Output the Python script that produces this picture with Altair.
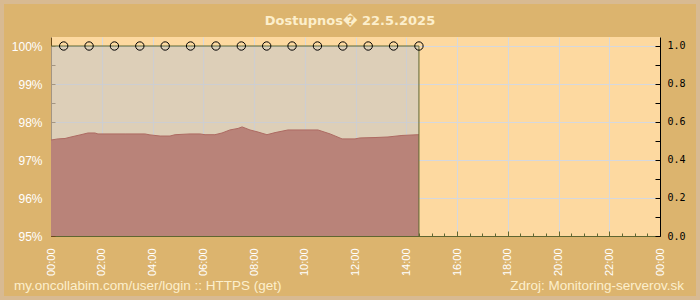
import altair as alt
import pandas as pd

TITLE = "Dostupnos\ufffd 22.5.2025"
FOOT_LEFT = "my.oncollabim.com/user/login :: HTTPS (get)"
FOOT_RIGHT = "Zdroj: Monitoring-serverov.sk"

# availability (left axis, %), hourly samples
avail_hours = [0.5, 1.5, 2.5, 3.5, 4.5, 5.5, 6.5, 7.5, 8.5, 9.5, 10.5, 11.5, 12.5, 13.5, 14.5]
avail_values = [100, 100, 100, 100, 100, 100, 100, 100, 100, 100, 100, 100, 100, 100, 100]

# response series (right axis)
resp_hours = [0.00, 0.28, 0.55, 0.79, 1.18, 1.46, 1.73, 1.85, 2.92, 3.70, 3.90, 4.30, 4.69, 4.89,
              5.48, 5.87, 6.07, 6.46, 6.74, 7.05, 7.37, 7.53, 7.84, 8.16, 8.51, 8.83, 9.34, 10.52,
              11.00, 11.47, 11.98, 12.18, 12.77, 13.28, 13.83, 14.46, 14.50]
resp_values = [0.505, 0.511, 0.513, 0.521, 0.533, 0.542, 0.542, 0.537, 0.537, 0.537, 0.532, 0.526, 0.526, 0.533,
               0.537, 0.537, 0.533, 0.533, 0.542, 0.558, 0.566, 0.574, 0.558, 0.547, 0.533, 0.544, 0.558, 0.558,
               0.537, 0.511, 0.511, 0.516, 0.518, 0.521, 0.529, 0.533, 0.533]

x_major = [0, 2, 4, 6, 8, 10, 12, 14, 16, 18, 20, 22, 24]
x_minor = [i * 0.5 for i in range(49)]
yl_major = [95, 96, 97, 98, 99, 100]
yl_minor = [95 + i * 0.5 for i in range(11)]
yr_major = [0.0, 0.2, 0.4, 0.6, 0.8, 1.0]
yr_minor = [round(i * 0.1, 1) for i in range(11)]

W, H = 609, 199
X_DOM = [0, 24]
YL_DOM = [95, 100.237]
YR_DOM = [0, 1.047]

GRID = "#d5d8de"
OLIVE = "#5f6631"
BROWN = "#6b4a1a"
CREAM = "#fcefcc"

xs = alt.Scale(domain=X_DOM, nice=False, zero=False)
yls = alt.Scale(domain=YL_DOM, nice=False, zero=False)
yrs = alt.Scale(domain=YR_DOM, nice=False, zero=False)

area_df = pd.DataFrame({"t": [0.0] + avail_hours, "v": [avail_values[0]] + avail_values})
mark_df = pd.DataFrame({"t": avail_hours, "v": avail_values})
last_df = pd.DataFrame({"t": [avail_hours[-1]], "v": [avail_values[-1]]})
resp_df = pd.DataFrame({"t": resp_hours, "v": resp_values})

x_main_axis = alt.Axis(
    orient="bottom", values=x_major, title=None, tickSize=0,
    labelExpr="datum.value == 24 ? '00:00' : (datum.value < 10 ? '0' : '') + datum.value + ':00'",
    labelAngle=270, labelAlign="right", labelBaseline="middle", labelColor="white",
    labelFont="Liberation Sans", labelFontSize=11, labelPadding=12, labelFlush=False,
    labelOverlap=False, domainColor=OLIVE, grid=True, gridColor=GRID,
)
yl_main_axis = alt.Axis(
    orient="left", values=yl_major, title=None, tickSize=0,
    labelExpr="datum.value + '%'", labelColor="white", labelFont="Liberation Sans",
    labelFontSize=12, labelPadding=9, labelFlush=False, domainColor=BROWN,
    grid=True, gridColor=GRID,
)
yr_main_axis = alt.Axis(
    orient="right", values=yr_major, title=None, tickSize=0, format=".1f",
    labelColor="black", labelFont="DejaVu Sans Mono", labelFontSize=10, labelPadding=7,
    labelFlush=False, domainColor="black", grid=False,
)

beige = alt.Chart(area_df).mark_area(color="#c8c8c8", opacity=0.6).encode(
    x=alt.X("t:Q", scale=xs, axis=x_main_axis),
    y=alt.Y("v:Q", scale=yls, axis=yl_main_axis),
    y2=alt.datum(YL_DOM[0]),
)

red = alt.Chart(resp_df).mark_area(color="#b98379", opacity=1).encode(
    x=alt.X("t:Q", scale=xs, axis=None),
    y=alt.Y("v:Q", scale=yrs, axis=yr_main_axis),
    y2=alt.datum(0),
)

red_line = alt.Chart(resp_df).mark_line(color="#ad6a62", strokeWidth=1).encode(
    x=alt.X("t:Q", scale=xs, axis=None),
    y=alt.Y("v:Q", scale=yrs, axis=alt.Axis(
        orient="right", offset=-5, tickSize=5, values=yr_minor, labels=False,
        domain=False, grid=False, title=None, tickColor="black")),
)

avail_line = alt.Chart(area_df).mark_line(color=OLIVE, strokeWidth=1).encode(
    x=alt.X("t:Q", scale=xs, axis=None),
    y=alt.Y("v:Q", scale=yls, axis=None),
)

drop = alt.Chart(last_df).mark_rule(color=OLIVE, strokeWidth=1).encode(
    x=alt.X("t:Q", scale=xs, axis=alt.Axis(
        orient="bottom", offset=-5, tickSize=5, values=x_major, labels=False,
        domain=False, grid=False, title=None, tickColor=OLIVE)),
    y=alt.Y("v:Q", scale=yls, axis=None),
    y2=alt.datum(YL_DOM[0]),
)

markers = alt.Chart(mark_df).mark_point(
    shape="circle", filled=False, color="black", size=70, strokeWidth=1, opacity=1
).encode(
    x=alt.X("t:Q", scale=xs, axis=alt.Axis(
        orient="bottom", offset=-3, tickSize=3, values=x_minor, labels=False,
        domain=False, grid=False, title=None, tickColor=OLIVE)),
    y=alt.Y("v:Q", scale=yls, axis=alt.Axis(
        orient="left", offset=-4, tickSize=4, values=yl_minor, labels=False,
        domain=False, grid=False, title=None, tickColor=BROWN)),
)

title = alt.Chart(pd.DataFrame({"s": [TITLE]})).mark_text(
    font="DejaVu Sans", fontSize=13, fontWeight="bold", color=CREAM,
    align="center", baseline="alphabetic"
).encode(text="s:N", x=alt.value(299), y=alt.value(-12))

foot_l = alt.Chart(pd.DataFrame({"s": [FOOT_LEFT]})).mark_text(
    font="Liberation Sans", fontSize=13.5, color=CREAM, align="left", baseline="alphabetic"
).encode(text="s:N", x=alt.value(-37), y=alt.value(253))

foot_r = alt.Chart(pd.DataFrame({"s": [FOOT_RIGHT]})).mark_text(
    font="Liberation Sans", fontSize=13.5, color=CREAM, align="right", baseline="alphabetic"
).encode(text="s:N", x=alt.value(633), y=alt.value(253))

frame = alt.Chart(pd.DataFrame({"a": [0]})).mark_rect(
    fill=None, stroke="#d8ba92", strokeWidth=4
).encode(x=alt.value(-49), x2=alt.value(647), y=alt.value(-35), y2=alt.value(261))

chart = alt.layer(
    beige, red, red_line, avail_line, drop, markers, title, foot_l, foot_r, frame
).resolve_scale(x="independent", y="independent").resolve_axis(
    x="independent", y="independent"
).properties(
    width=W, height=H,
    autosize=alt.AutoSizeParams(type="none"),
    padding={"left": 51, "top": 37, "right": 40, "bottom": 64},
    background="#dcb46e",
).configure_view(fill="#fdd9a0", stroke=None)

chart.save("out.html", embed_options={"renderer": "svg", "actions": False})
